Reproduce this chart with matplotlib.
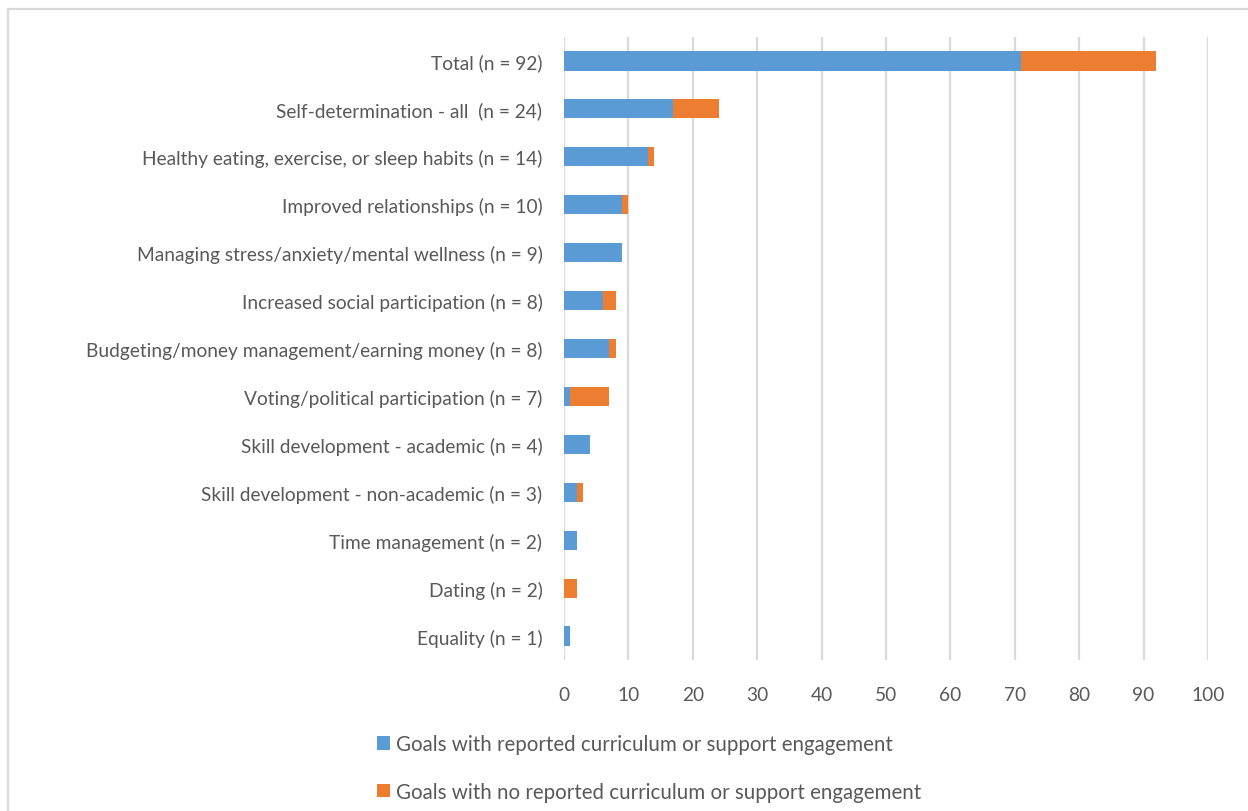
import numpy as np
import matplotlib.pyplot as plt
from matplotlib.patches import Rectangle

### Data
categories = [
    'Total (n = 92)',
    'Self-determination - all  (n = 24)',
    'Healthy eating, exercise, or sleep habits (n = 14)',
    'Improved relationships (n = 10)',
    'Managing stress/anxiety/mental wellness (n = 9)',
    'Increased social participation (n = 8)',
    'Budgeting/money management/earning money (n = 8)',
    'Voting/political participation (n = 7)',
    'Skill development - academic (n = 4)',
    'Skill development - non-academic (n = 3)',
    'Time management (n = 2)',
    'Dating (n = 2)',
    'Equality (n = 1)',
]
engaged     = [71, 17, 13, 9, 9, 6, 7, 1, 4, 2, 2, 0, 1]
not_engaged = [21, 7, 1, 1, 0, 2, 1, 6, 0, 1, 0, 2, 0]
x_ticks = [0, 10, 20, 30, 40, 50, 60, 70, 80, 90, 100]

label_engaged = 'Goals with reported curriculum or support engagement'
label_not = 'Goals with no reported curriculum or support engagement'

### Style
blue = '#5b9bd5'
orange = '#ed7d31'
text_col = '#595959'
grid_col = '#d9d9d9'
plt.rcParams['font.family'] = ['Lato', 'DejaVu Sans']

W, H = 1248, 812
fig = plt.figure(figsize=(W/100, H/100), dpi=100)
ax = fig.add_axes([564/W, 151/H, (1208-564)/W, (774-151)/H])

y = np.arange(len(categories))
ax.barh(y, engaged, height=0.4, color=blue, label=label_engaged, zorder=3)
ax.barh(y, not_engaged, left=engaged, height=0.4, color=orange,
        label=label_not, zorder=3)

ax.set_xlim(0, 100)
ax.set_ylim(len(categories) - 0.5, -0.5)
ax.set_xticks(x_ticks)
ax.set_yticks(y)
ax.set_yticklabels(categories)
ax.tick_params(axis='both', length=0, colors=text_col, labelsize=13.8)
ax.tick_params(axis='y', pad=15.5)
ax.tick_params(axis='x', pad=19)
ax.grid(axis='x', color=grid_col, linewidth=1.6, zorder=0)
for s in ax.spines.values():
    s.set_visible(False)

### Legend (stacked rows under the axis)
leg = fig.legend(loc='upper left', bbox_to_anchor=(369/W, 1 - 727/H),
                 ncol=1, frameon=False, fontsize=14.8, labelcolor=text_col,
                 handlelength=0.62, handleheight=0.62, handletextpad=0.3,
                 labelspacing=1.35, borderaxespad=0)

### Outer chart border
fig.patches.append(Rectangle((8/W, -0.05), 1.1, 1 - 10/H + 0.05,
                             transform=fig.transFigure, fill=False,
                             edgecolor='#d9d9d9', linewidth=1.6))

fig.savefig('out.png', dpi=100)
